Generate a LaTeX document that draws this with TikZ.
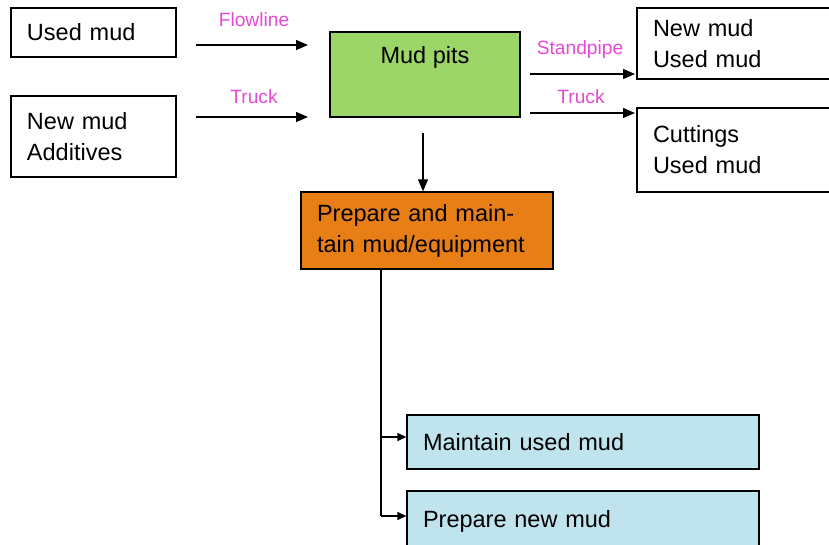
\documentclass[tikz,border=0pt]{standalone}
\usepackage{fontspec}
\setmainfont{Liberation Sans}
\usetikzlibrary{arrows.meta}
\definecolor{pinklab}{RGB}{232,72,214}
\definecolor{mudgreen}{RGB}{156,214,104}
\definecolor{mudorange}{RGB}{232,126,22}
\definecolor{mudblue}{RGB}{192,228,238}
\tikzset{
  box/.style={draw=black, line width=1.3pt, rectangle, inner sep=0pt, align=left,
    font=\fontsize{23.5}{31}\selectfont},
  lab/.style={text=pinklab, font=\fontsize{19.2}{22}\selectfont, inner sep=0pt},
  arr/.style={line width=1.3pt, -{Triangle[length=12pt,width=10pt]}},
  sarr/.style={line width=1.3pt, -{Triangle[length=9pt,width=8pt]}},
}
\begin{document}
\begin{tikzpicture}[x=1pt,y=-1pt]
\useasboundingbox (0,0) rectangle (829,545);
% left boxes
\node[box, minimum width=165pt, minimum height=49pt, text width=133pt] (used) at (93.5,32.5) {Used mud};
\node[box, minimum width=165pt, minimum height=81pt, text width=133pt] (newadd) at (93.5,136.5) {New mud\\Additives};
% mud pits
\node[box, fill=mudgreen, minimum width=190pt, minimum height=85pt] (pits) at (425,74.5) {};
\node[font=\fontsize{23.5}{31}\selectfont, inner sep=0pt] (pitst) at (425,57) {Mud pits};
% right boxes
\node[box, minimum width=200pt, minimum height=71pt, text width=168pt] (rtop) at (737,43.5) {New mud\\Used mud};
\node[box, minimum width=200pt, minimum height=84pt, text width=168pt] (rbot) at (737,150) {Cuttings\\Used mud};
% orange
\node[box, fill=mudorange, minimum width=252pt, minimum height=77pt, text width=220pt] (prep) at (427,230.5) {Prepare and main-\\tain mud/equipment};
% blue
\node[box, fill=mudblue, minimum width=352pt, minimum height=54pt, text width=320pt] (maint) at (583,442) {Maintain used mud};
\node[box, fill=mudblue, minimum width=352pt, minimum height=60pt, text width=320pt] (newm) at (583,521) {Prepare new mud};
% arrow coordinates
\coordinate (a1s) at (196,45); \coordinate (a1e) at (308,45);
\coordinate (a2s) at (196,117); \coordinate (a2e) at (308,117);
\coordinate (a3s) at (530,74); \coordinate (a3e) at (635,74);
\coordinate (a4s) at (530,113); \coordinate (a4e) at (635,113);
\coordinate (dns) at (423,133);
\draw[arr] (a1s) -- (a1e);
\draw[arr] (a2s) -- (a2e);
\draw[arr] (a3s) -- (a3e);
\draw[arr] (a4s) -- (a4e);
\draw[arr] (dns) -- (prep.north -| dns);
\node[lab] (l1) at (254,20) {Flowline};
\node[lab] (l2) at (254,97) {Truck};
\node[lab] (l3) at (580,50) {Standpipe};
\node[lab] (l4) at (581,97) {Truck};
% bottom branch
\coordinate (br) at (381,269);
\coordinate (b1) at (381,437);
\coordinate (b2) at (381,516);
\draw[line width=1.3pt] (br) -- (b2);
\draw[sarr] (b1) -- (b1 -| maint.west);
\draw[sarr] (b2) -- (b2 -| newm.west);
\end{tikzpicture}
\end{document}
